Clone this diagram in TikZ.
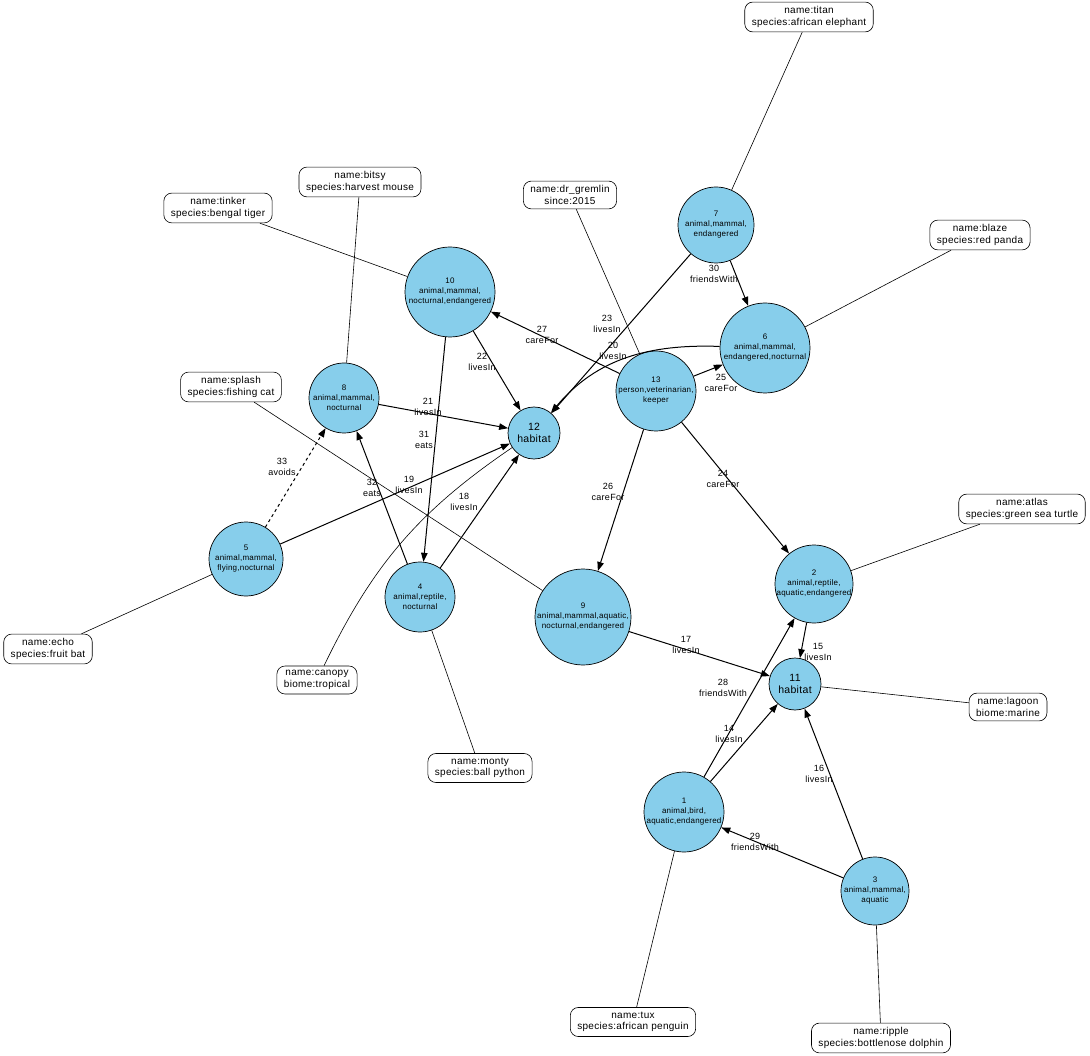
\documentclass[tikz,border=0pt]{standalone}
\usepackage{fontspec}
\setmainfont{Liberation Sans}
\newfontfamily\spacedfont[LetterSpace=3]{Liberation Sans}
\usetikzlibrary{arrows.meta}
\definecolor{skyblue}{RGB}{135,206,235}

\tikzset{
  entity/.style={circle,draw,line width=0.7pt,fill=skyblue,inner sep=-3pt,align=center,
    font=\spacedfont\fontsize{8}{10}\selectfont},
  habitat/.style={entity,font=\spacedfont\fontsize{10.5}{12.5}\selectfont},
  props/.style={rectangle,rounded corners=8pt,draw,line width=0.6pt,align=center,
    inner xsep=7pt,inner ysep=4.5pt,font=\spacedfont\fontsize{10}{11.5}\selectfont},
  rel/.style={-{Triangle[length=9pt,width=6.5pt]},line width=1pt},
  proplink/.style={line width=0.6pt},
  lbl/.style={align=center,inner sep=0pt,font=\spacedfont\fontsize{9}{10.5}\selectfont}
}

\begin{document}
\begin{tikzpicture}[x=1pt,y=-1pt]
				\useasboundingbox (0,0) rectangle (1090,1056);

				% graph nodes
				\node[entity,minimum size=80] (n1) at (684,812) {1\\animal,bird,\\aquatic,endangered};
				\node[entity,minimum size=78] (n2) at (814,584) {2\\animal,reptile,\\aquatic,endangered};
				\node[entity,minimum size=68] (n3) at (875,891) {3\\animal,mammal,\\aquatic};
				\node[entity,minimum size=70] (n4) at (420,597) {4\\animal,reptile,\\nocturnal};
				\node[entity,minimum size=74] (n5) at (246,559) {5\\animal,mammal,\\flying,nocturnal};
				\node[entity,minimum size=90] (n6) at (765,348) {6\\animal,mammal,\\endangered,nocturnal};
				\node[entity,minimum size=76] (n7) at (716,225) {7\\animal,mammal,\\endangered};
				\node[entity,minimum size=70] (n8) at (344,398) {8\\animal,mammal,\\nocturnal};
				\node[entity,minimum size=96] (n9) at (583,617) {9\\animal,mammal,aquatic,\\nocturnal,endangered};
				\node[entity,minimum size=90] (n10) at (450,292) {10\\animal,mammal,\\nocturnal,endangered};
				\node[habitat,minimum size=52] (n11) at (795,684) {11\\habitat};
				\node[habitat,minimum size=52] (n12) at (534,433) {12\\habitat};
				\node[entity,minimum size=80] (n13) at (656,391) {13\\person,veterinarian,\\keeper};

				% property boxes
				\begin{scope}[every node/.style={props}]
					\node (titan) at (809,17) {name:titan\\species:african elephant};
					\node (drgremlin) at (570,195) {name:dr\_gremlin\\since:2015};
					\node (blaze) at (980,235) {name:blaze\\species:red panda};
					\node (bitsy) at (360,182) {name:bitsy\\species:harvest mouse};
					\node (tinker) at (218,208) {name:tinker\\species:bengal tiger};
					\node (splash) at (231,387) {name:splash\\species:fishing cat};
					\node (atlas) at (1022,509) {name:atlas\\species:green sea turtle};
					\node (echo) at (48,649) {name:echo\\species:fruit bat};
					\node (canopy) at (317,680) {name:canopy\\biome:tropical};
					\node (monty) at (480,768) {name:monty\\species:ball python};
					\node (lagoon) at (1008,707) {name:lagoon\\biome:marine};
					\node (tux) at (633,1022) {name:tux\\species:african penguin};
					\node (ripple) at (881,1038) {name:ripple\\species:bottlenose dolphin};
				\end{scope}

				\path[proplink] (titan) edge (n7)
					(drgremlin) edge (n13)
					(blaze) edge (n6)
					(bitsy) edge (n8)
					(tinker) edge (n10)
					(splash) edge (n9)
					(atlas) edge (n2)
					(echo) edge (n5)
					(monty) edge (n4)
					(lagoon) edge (n11)
					(tux) edge (n1)
					(ripple) edge (n3);
				\draw[proplink] (canopy) to[bend left=15] (n12);

				% relations
				\path[rel] (n1) edge (n11)
					(n2) edge (n11)
					(n3) edge (n11)
					(n9) edge (n11)
					(n4) edge (n12)
					(n5) edge (n12)
					(n8) edge (n12)
					(n10) edge (n12)
					(n7) edge (n12)
					(n13) edge (n2)
					(n13) edge (n6)
					(n13) edge (n9)
					(n13) edge (n10)
					(n1) edge (n2)
					(n3) edge (n1)
					(n7) edge (n6)
					(n10) edge (n4)
					(n4) edge (n8);
				\draw[rel] (n6) to[out=178,in=50] (n12);
				\draw[rel,dashed] (n5) -- (n8);

				\begin{scope}[every node/.style={lbl}]
					\node (lab14) at (729,734) {14\\livesIn};
					\node (lab15) at (818,652) {15\\livesIn};
					\node (lab16) at (819,774) {16\\livesIn};
					\node (lab17) at (686,645) {17\\livesIn};
					\node (lab18) at (464,502) {18\\livesIn};
					\node (lab19) at (409,485) {19\\livesIn};
					\node (lab20) at (613,351) {20\\livesIn};
					\node (lab21) at (428,407) {21\\livesIn};
					\node (lab22) at (482,362) {22\\livesIn};
					\node (lab23) at (607,324) {23\\livesIn};
					\node (lab24) at (723,479) {24\\careFor};
					\node (lab25) at (721,383) {25\\careFor};
					\node (lab26) at (608,492) {26\\careFor};
					\node (lab27) at (542,335) {27\\careFor};
					\node (lab28) at (723,688) {28\\friendsWith};
					\node (lab29) at (755,842) {29\\friendsWith};
					\node (lab30) at (714,274) {30\\friendsWith};
					\node (lab31) at (424,440) {31\\eats};
					\node (lab32) at (372,488) {32\\eats};
					\node (lab33) at (282,467) {33\\avoids};
				\end{scope}
			\end{tikzpicture}
\end{document}
